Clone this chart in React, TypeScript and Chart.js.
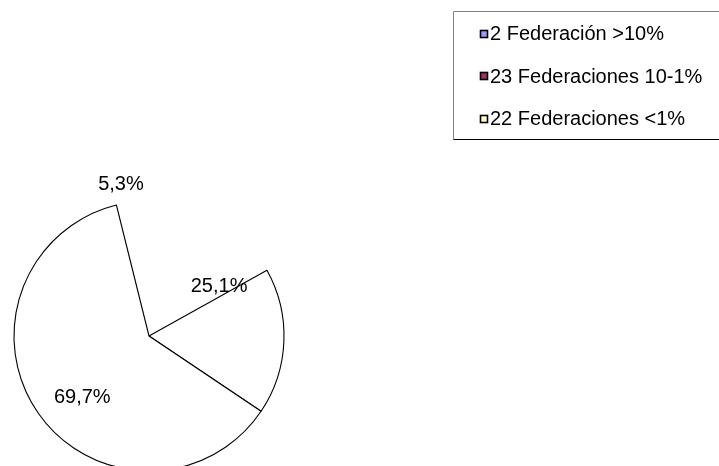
import React, { useEffect, useRef } from "react";
import { Chart, registerables } from "chart.js";

Chart.register(...registerables);

// Categories (legend order) and the percentage labels printed on the chart
const categories = ["2 Federación >10%", "23 Federaciones 10-1%", "22 Federaciones <1%"];
const percentLabels = ["25,1%", "69,7%", "5,3%"];
// Wedge sizes as they are drawn in the picture (share of the full circle, %)
const wedgeShares = [17.5, 61.7, 20.8];
// Legend swatch colours
const legendColors = ["#9999FF", "#993366", "#FFFFCC"];

const FONT = '20px "Liberation Sans", Arial, sans-serif';

export default function App() {
  const ref = useRef<HTMLCanvasElement>(null);

  useEffect(() => {
    const canvas = ref.current;
    if (!canvas) return;

    // label anchor: fraction along the wedge's angle span, and fraction of radius
    const anchorFrac = [-0.1, 0.465, 0.047];
    const anchorRad = [0.637, 0.674, 1.144];

    const overlay = {
      id: "overlay",
      afterDatasetsDraw(chart: any) {
        const ctx = chart.ctx as CanvasRenderingContext2D;
        const meta = chart.getDatasetMeta(0);
        ctx.save();
        ctx.font = FONT;
        ctx.fillStyle = "#000";
        ctx.textAlign = "center";
        ctx.textBaseline = "middle";
        meta.data.forEach((el: any, i: number) => {
          const p = el.getProps(["x", "y", "startAngle", "endAngle", "outerRadius"], true);
          const a = p.startAngle + anchorFrac[i] * (p.endAngle - p.startAngle);
          const r = p.outerRadius * anchorRad[i];
          ctx.fillText(percentLabels[i], p.x + Math.cos(a) * r, p.y + Math.sin(a) * r);
        });

        // legend box
        const bx = 453.5;
        const top = 11.5;
        const bottom = 139.5;
        const right = chart.width + 5;
        ctx.lineWidth = 1;
        ctx.strokeStyle = "#808080";
        ctx.beginPath();
        ctx.moveTo(bx, bottom);
        ctx.lineTo(bx, top);
        ctx.lineTo(right, top);
        ctx.stroke();
        ctx.strokeStyle = "#000";
        ctx.beginPath();
        ctx.moveTo(bx, bottom);
        ctx.lineTo(right, bottom);
        ctx.stroke();

        // legend entries
        ctx.textAlign = "left";
        ctx.textBaseline = "middle";
        const rowY0 = 33.5;
        const rowGap = 42.5;
        categories.forEach((c, i) => {
          const cy = rowY0 + i * rowGap;
          const sy = Math.round(cy - 4);
          ctx.fillStyle = legendColors[i];
          ctx.fillRect(480, sy, 8, 8);
          ctx.strokeStyle = "#000";
          ctx.lineWidth = 1.6;
          ctx.strokeRect(480.5, sy + 0.5, 7, 7);
          ctx.fillStyle = "#000";
          ctx.fillText(c, 490, cy + 1);
        });
        ctx.restore();
      },
    };

    const chart = new Chart(canvas, {
      type: "pie",
      data: {
        labels: categories,
        datasets: [
          {
            data: wedgeShares,
            backgroundColor: ["#ffffff", "#ffffff", "rgba(0,0,0,0)"],
            borderColor: "#000000",
            borderWidth: [1.1, 1.1, 0],
            hoverOffset: 0,
          },
        ],
      },
      options: {
        responsive: false,
        animation: false,
        events: [],
        rotation: 60.9,
        radius: 135,
        layout: { padding: { left: 14, top: 201, right: 435, bottom: 9 } },
        plugins: {
          legend: { display: false },
          tooltip: { enabled: false },
        },
      } as any,
      plugins: [overlay],
    });

    return () => chart.destroy();
  }, []);

  return (
    <div
      style={{
        position: "absolute",
        left: 0,
        top: 0,
        width: 719,
        height: 466,
        overflow: "hidden",
        background: "#ffffff",
      }}
    >
      <canvas ref={ref} width={719} height={480} style={{ display: "block" }} />
    </div>
  );
}
